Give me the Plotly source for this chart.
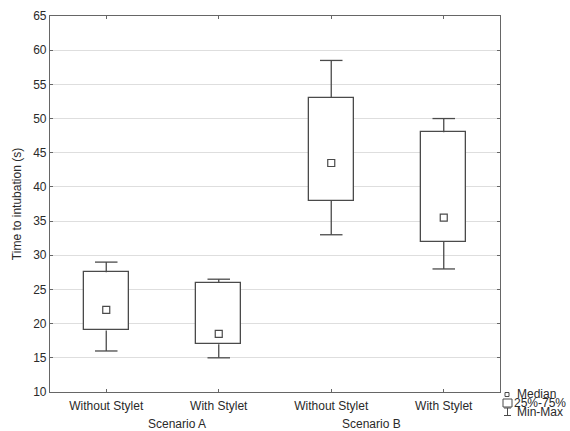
import plotly.graph_objects as go

categories = ["Without Stylet", "With Stylet", "Without Stylet", "With Stylet"]
groups = ["Scenario A", "Scenario B"]
mins = [16, 15, 33, 28]
q1s = [19, 17, 38, 32]
medians = [22, 18.5, 43.5, 35.5]
q3s = [27.5, 26, 53, 48]
maxs = [29, 26.5, 58.5, 50]
y_ticks = list(range(10, 70, 5))

LINE = "#4a4a4a"
TXT = "#2a2a2a"
FONT = "Liberation Sans, Arial, sans-serif"

xs = list(range(len(categories)))
cap = 0.1

fig = go.Figure()

# boxes (25%-75%)
fig.add_trace(go.Bar(
    x=xs, y=[b - a for a, b in zip(q1s, q3s)], base=q1s, width=0.4,
    marker=dict(color="white", line=dict(color=LINE, width=1.3)),
    showlegend=False, hoverinfo="skip"))

# whiskers
wx, wy = [], []
for x, lo, a, b, hi in zip(xs, mins, q1s, q3s, maxs):
    wx += [x, x, None, x, x, None, x - cap, x + cap, None, x - cap, x + cap, None]
    wy += [b, hi, None, a, lo, None, hi, hi, None, lo, lo, None]
fig.add_trace(go.Scatter(x=wx, y=wy, mode="lines", line=dict(color=LINE, width=1.3),
                         showlegend=False, hoverinfo="skip"))

# medians
fig.add_trace(go.Scatter(x=xs, y=medians, mode="markers",
                         marker=dict(symbol="square-open", size=7, color=LINE, line=dict(width=1.2)),
                         showlegend=False))

axis_common = dict(showline=True, linecolor="#666666", linewidth=1.2, mirror="ticks",
                   ticks="inside", ticklen=3, tickcolor="#666666", automargin=False,
                   tickfont=dict(size=12, color=TXT, family=FONT), zeroline=False)

fig.update_xaxes(range=[-0.5, 3.5], tickvals=xs, ticktext=categories, showgrid=False,
                 ticklabelstandoff=2, **axis_common)
fig.update_yaxes(range=[10, 65], tickvals=y_ticks, showgrid=True, gridcolor="#dedede", gridwidth=1,
                 title=dict(text="Time to intubation (s)", font=dict(size=12, color=TXT, family=FONT), standoff=8),
                 **axis_common)

# legend / label helpers (pixel -> paper)
def px(x):
    return (x - 50) / 450

def py(y):
    return (392 - y) / 376

# group labels
for gx, g in zip([0.63, 2.36], groups):
    fig.add_annotation(x=gx, y=py(424), xref="x", yref="paper", text=g, showarrow=False,
                       font=dict(size=12, color=TXT, family=FONT), xanchor="center", yanchor="middle")

shapes = [
    dict(type="rect", x0=px(505), x1=px(509), y0=py(392.5), y1=py(396.5)),
    dict(type="rect", x0=px(503), x1=px(512), y0=py(399), y1=py(407)),
    dict(type="line", x0=px(507.5), x1=px(507.5), y0=py(408), y1=py(415.5)),
    dict(type="line", x0=px(504), x1=px(511), y0=py(408), y1=py(408)),
    dict(type="line", x0=px(504), x1=px(511), y0=py(415.5), y1=py(415.5)),
]
for s in shapes:
    s.update(xref="paper", yref="paper", line=dict(color=LINE, width=1))
    fig.add_shape(**s)

for tx, ty, t in [(516, 394.5, "Median"), (513, 403, "25%-75%"), (516, 411.5, "Min-Max")]:
    fig.add_annotation(x=px(tx), y=py(ty), xref="paper", yref="paper", text=t, showarrow=False,
                       xanchor="left", yanchor="middle", borderpad=0,
                       font=dict(size=12, color=TXT, family=FONT))

fig.update_layout(width=570, height=431, margin=dict(l=50, r=70, t=16, b=39),
                  paper_bgcolor="white", plot_bgcolor="white", bargap=0, showlegend=False,
                  font=dict(family=FONT, color=TXT))

fig.write_html("out.html", config={"displayModeBar": False},
               post_script="document.body.style.margin='0';document.body.style.overflow='hidden';")
